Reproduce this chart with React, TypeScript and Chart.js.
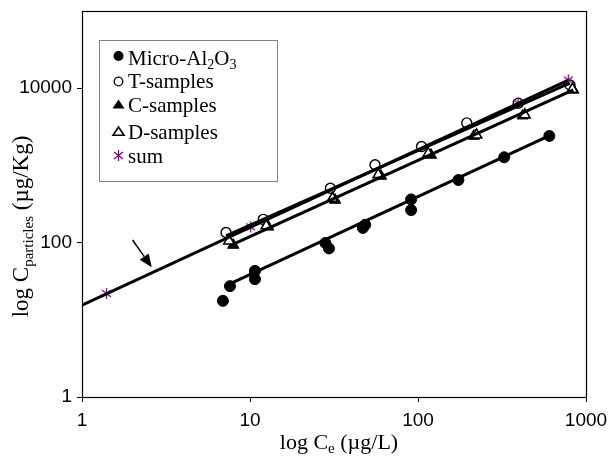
import React, { useEffect, useRef } from "react";
import { Chart, registerables } from "chart.js";

Chart.register(...registerables);

// ---- data ----
const xTicks = [1, 10, 100, 1000];
const yTicks = [1, 100, 10000];

const microX = [6.9, 7.6, 10.7, 10.7, 28.1, 29.5, 47, 48.5, 91, 91, 174, 326, 605];
const microY = [17.6, 27.3, 43, 33.6, 99, 84, 155, 170, 363, 264, 647, 1274, 2406];
const tX = [7.2, 12, 30.1, 55.5, 105, 195, 395, 803];
const tY = [135, 200, 505, 1020, 1760, 3550, 6390, 11000];
const cX = [7.95, 12.85, 32.1, 60.2, 119.5, 215, 420, 840];
const cY = [93, 160, 356, 728, 1364, 2400, 4400, 9500];
const dX = [7.5, 12.5, 31, 58, 115, 223, 433, 830];
const dY = [105, 165, 375, 760, 1420, 2480, 4510, 9700];
const sumX = [1.4, 10.1, 394, 785];
const sumY = [21.9, 160, 6390, 12750];

// fitted lines (end points)
const sumLineX = [1, 780];
const sumLineY = [15.5, 12600];
const tLineX = [7.2, 800];
const tLineY = [122, 11600];
const cLineX = [7.9, 840];
const cLineY = [95, 9500];
const microLineX = [7.1, 619];
const microLineY = [27.3, 2480];

// arrow annotation (data coords: tail, head)
const arrowX = [2.0, 2.6];
const arrowY = [108, 48];

const legendLabels = ["Micro-Al2O3", "T-samples", "C-samples", "D-samples", "sum"];

const SANS = '"Liberation Sans", Arial, sans-serif';
const SERIF = '"Liberation Serif", "Times New Roman", serif';
const PURPLE = "#800080";

const pts = (xs: number[], ys: number[]) => xs.map((x, i) => ({ x, y: ys[i] }));

function makeAsterisk(): HTMLCanvasElement {
  const c = document.createElement("canvas");
  c.width = 13;
  c.height = 13;
  const g = c.getContext("2d")!;
  g.strokeStyle = PURPLE;
  g.lineWidth = 1.3;
  g.beginPath();
  g.moveTo(6.5, 1);
  g.lineTo(6.5, 12);
  g.moveTo(2, 3);
  g.lineTo(11, 10);
  g.moveTo(11, 3);
  g.lineTo(2, 10);
  g.stroke();
  return c;
}

type Seg = { t: string; sub?: boolean };

function richWidth(ctx: CanvasRenderingContext2D, segs: Seg[], size: number) {
  let w = 0;
  for (const s of segs) {
    ctx.font = `${s.sub ? Math.round(size * 0.66) : size}px ${SERIF}`;
    w += ctx.measureText(s.t).width;
  }
  return w;
}

function drawRich(ctx: CanvasRenderingContext2D, segs: Seg[], x: number, y: number, size: number, center: boolean) {
  const w = richWidth(ctx, segs, size);
  let cx = center ? x - w / 2 : x;
  ctx.textAlign = "left";
  ctx.textBaseline = "alphabetic";
  ctx.fillStyle = "#000";
  for (const s of segs) {
    ctx.font = `${s.sub ? Math.round(size * 0.66) : size}px ${SERIF}`;
    ctx.fillText(s.t, cx, y + (s.sub ? size * 0.2 : 0));
    cx += ctx.measureText(s.t).width;
  }
}

function triPath(ctx: CanvasRenderingContext2D, x: number, y: number, r: number) {
  const h = (r * 3) / 2;
  const half = ((r * Math.sqrt(3)) / 2) * 1.15;
  ctx.beginPath();
  ctx.moveTo(x, y - r);
  ctx.lineTo(x + half, y + h - r);
  ctx.lineTo(x - half, y + h - r);
  ctx.closePath();
}

function drawMarker(ctx: CanvasRenderingContext2D, kind: number, x: number, y: number, ast: HTMLCanvasElement) {
  ctx.save();
  ctx.strokeStyle = "#000";
  ctx.fillStyle = "#000";
  ctx.lineWidth = 1.3;
  if (kind === 0) {
    ctx.beginPath();
    ctx.arc(x, y, 5, 0, Math.PI * 2);
    ctx.fill();
  } else if (kind === 1) {
    ctx.beginPath();
    ctx.arc(x, y, 4.3, 0, Math.PI * 2);
    ctx.fillStyle = "#fff";
    ctx.fill();
    ctx.stroke();
  } else if (kind === 2) {
    triPath(ctx, x, y, 6);
    ctx.fill();
  } else if (kind === 3) {
    triPath(ctx, x, y, 5.5);
    ctx.fillStyle = "#fff";
    ctx.fill();
    ctx.lineWidth = 1.6;
    ctx.stroke();
  } else {
    ctx.drawImage(ast, x - 6.5, y - 6.5);
  }
  ctx.restore();
}

const zeroPad = (s: any) => {
  s.paddingLeft = 0;
  s.paddingRight = 0;
  s.paddingTop = 0;
  s.paddingBottom = 0;
};

export default function App() {
  const ref = useRef<HTMLCanvasElement | null>(null);

  useEffect(() => {
    const canvas = ref.current;
    if (!canvas) return;
    const ast = makeAsterisk();

    const overlay = {
      id: "overlay",
      afterDatasetsDraw(chart: any) {
        const { ctx, chartArea } = chart;
        const xs = chart.scales.x;
        const ys = chart.scales.y;
        const { left, top, right, bottom } = chartArea;
        ctx.save();
        // frame
        ctx.strokeStyle = "#000";
        ctx.lineWidth = 1.2;
        ctx.strokeRect(Math.round(left) + 0.5, Math.round(top) + 0.5, Math.round(right - left), Math.round(bottom - top));

        // arrow
        const ax0 = xs.getPixelForValue(arrowX[0]);
        const ay0 = ys.getPixelForValue(arrowY[0]);
        const ax1 = xs.getPixelForValue(arrowX[1]);
        const ay1 = ys.getPixelForValue(arrowY[1]);
        const ang = Math.atan2(ay1 - ay0, ax1 - ax0);
        const hl = 13;
        const hw = 5.5;
        const bx = ax1 - hl * Math.cos(ang);
        const by = ay1 - hl * Math.sin(ang);
        ctx.lineWidth = 1.5;
        ctx.beginPath();
        ctx.moveTo(ax0, ay0);
        ctx.lineTo(bx, by);
        ctx.stroke();
        ctx.beginPath();
        ctx.moveTo(ax1, ay1);
        ctx.lineTo(bx + hw * Math.sin(ang), by - hw * Math.cos(ang));
        ctx.lineTo(bx - hw * Math.sin(ang), by + hw * Math.cos(ang));
        ctx.closePath();
        ctx.fillStyle = "#000";
        ctx.fill();

        // legend
        const lx = left + 17.5;
        const ly = top + 29.5;
        ctx.fillStyle = "#fff";
        ctx.fillRect(lx, ly, 178, 141);
        ctx.strokeStyle = "#808080";
        ctx.lineWidth = 1;
        ctx.strokeRect(lx, ly, 178, 141);
        const baselines = [24, 47.5, 71.5, 98.5, 122];
        const markY = [15.5, 41, 65, 92, 115];
        for (let i = 0; i < legendLabels.length; i++) {
          drawMarker(ctx, i, lx + 19, ly + markY[i], ast);
          const lab = legendLabels[i];
          let segs: Seg[];
          if (i === 0) {
            segs = [{ t: "Micro-Al" }, { t: "2", sub: true }, { t: "O" }, { t: "3", sub: true }];
          } else {
            segs = [{ t: lab }];
          }
          drawRich(ctx, segs, lx + 28.5, ly + baselines[i], 21, false);
        }

        // axis titles
        drawRich(ctx, [{ t: "log C" }, { t: "e", sub: true }, { t: " (µg/L)" }], (left + right) / 2 + 5, 449, 22, true);
        ctx.save();
        ctx.translate(28, 226.5);
        ctx.rotate(-Math.PI / 2);
        drawRich(ctx, [{ t: "log C" }, { t: "particles", sub: true }, { t: " (µg/Kg)" }], 0, 0, 23, true);
        ctx.restore();
        ctx.restore();
      },
    };

    const lineDs = (xs: number[], ys: number[]) => ({
      data: pts(xs, ys),
      showLine: true,
      borderColor: "#000",
      borderWidth: 3,
      pointRadius: 0,
      order: 0,
    });

    const chart = new Chart(canvas, {
      type: "scatter",
      data: {
        datasets: [
          lineDs(sumLineX, sumLineY),
          lineDs(tLineX, tLineY),
          lineDs(cLineX, cLineY),
          lineDs(microLineX, microLineY),
          {
            label: legendLabels[4],
            data: pts(sumX, sumY),
            pointStyle: ast as any,
            pointRadius: 6,
            order: 1,
          },
          {
            label: legendLabels[3],
            data: pts(dX, dY),
            pointStyle: "triangle",
            pointRadius: 6,
            backgroundColor: "#fff",
            borderColor: "#000",
            borderWidth: 1.6,
            order: 2,
          },
          {
            label: legendLabels[2],
            data: pts(cX, cY),
            pointStyle: "triangle",
            pointRadius: 6.5,
            backgroundColor: "#000",
            borderColor: "#000",
            borderWidth: 1,
            order: 3,
          },
          {
            label: legendLabels[1],
            data: pts(tX, tY),
            pointStyle: "circle",
            pointRadius: 5,
            backgroundColor: "#fff",
            borderColor: "#000",
            borderWidth: 1.4,
            order: 4,
          },
          {
            label: legendLabels[0],
            data: pts(microX, microY),
            pointStyle: "circle",
            pointRadius: 5.5,
            backgroundColor: "#000",
            borderColor: "#000",
            borderWidth: 1,
            order: 5,
          },
        ] as any,
      },
      options: {
        animation: false,
        responsive: false,
        devicePixelRatio: 1,
        events: [],
        layout: { padding: { left: 0, right: 23, top: 11, bottom: 0 } },
        plugins: { legend: { display: false }, tooltip: { enabled: false } },
        scales: {
          x: {
            type: "logarithmic",
            min: 1,
            max: 1000,
            afterBuildTicks: (s: any) => {
              s.ticks = xTicks.map((v) => ({ value: v }));
            },
            afterFit: (s: any) => {
              s.height = 59;
              zeroPad(s);
            },
            ticks: {
              font: { family: SANS, size: 19 },
              color: "#000",
              padding: 7,
              maxRotation: 0,
              autoSkip: false,
              callback: (v: any) => String(v),
            },
            grid: { display: true, drawOnChartArea: false, drawTicks: true, tickLength: 5, color: "#000" },
            border: { display: true, color: "#000", width: 1 },
          },
          y: {
            type: "logarithmic",
            min: 1,
            max: 100000,
            afterBuildTicks: (s: any) => {
              s.ticks = yTicks.map((v) => ({ value: v }));
            },
            afterFit: (s: any) => {
              s.width = 82;
              zeroPad(s);
            },
            ticks: {
              font: { family: SANS, size: 19 },
              color: "#000",
              padding: 5,
              autoSkip: false,
              callback: (v: any) => String(v),
            },
            grid: { display: true, drawOnChartArea: false, drawTicks: true, tickLength: 5, color: "#000" },
            border: { display: true, color: "#000", width: 1 },
          },
        },
      } as any,
      plugins: [overlay],
    });

    return () => chart.destroy();
  }, []);

  return (
    <div style={{ position: "absolute", left: 0, top: 0, width: 609, height: 456, background: "#fff" }}>
      <canvas ref={ref} width={609} height={456} style={{ display: "block" }} />
    </div>
  );
}
